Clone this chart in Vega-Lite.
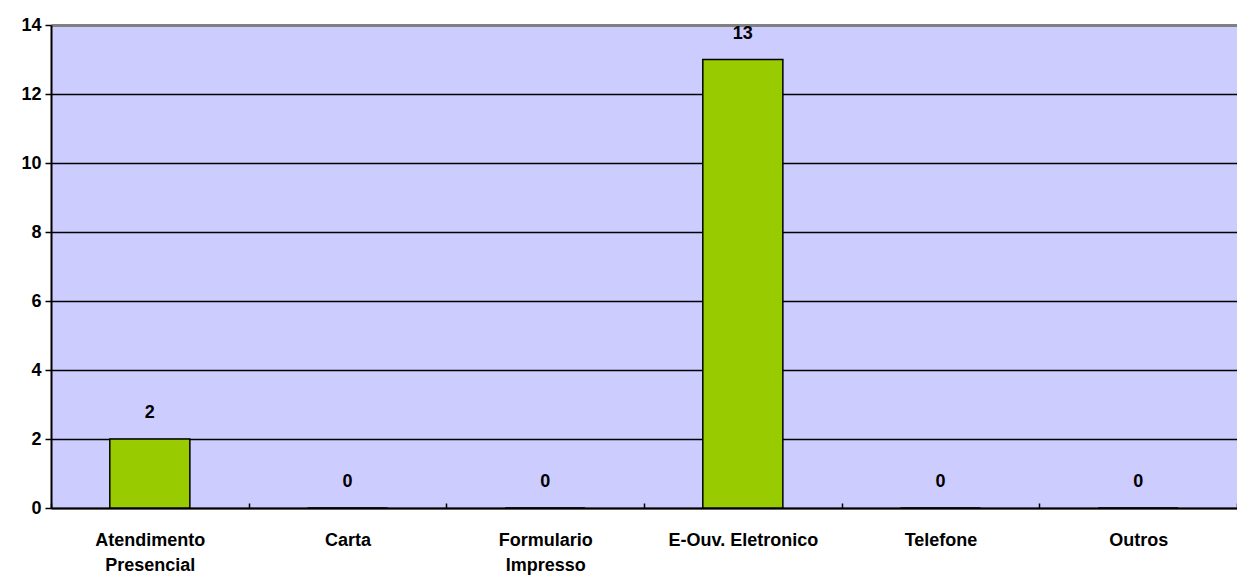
{
  "$schema": "https://vega.github.io/schema/vega-lite/v6.json",
  "width": 1186,
  "height": 483,
  "autosize": {"type": "none"},
  "padding": {"left": 51, "top": 25, "right": 0, "bottom": 72},
  "background": "white",
  "config": {
    "view": {"fill": "#CCCCFF", "stroke": null},
    "font": "Liberation Sans"
  },
  "data": {
    "values": [
      {"canal": "Atendimento Presencial", "valor": 2},
      {"canal": "Carta", "valor": 0},
      {"canal": "Formulario Impresso", "valor": 0},
      {"canal": "E-Ouv. Eletronico", "valor": 13},
      {"canal": "Telefone", "valor": 0},
      {"canal": "Outros", "valor": 0}
    ]
  },
  "encoding": {
    "x": {
      "field": "canal",
      "type": "nominal",
      "sort": null,
      "scale": {"paddingInner": 0, "paddingOuter": 0},
      "axis": {
        "title": null,
        "labelAngle": 0,
        "labelFont": "Liberation Sans",
        "labelFontSize": 18,
        "labelFontWeight": "bold",
        "labelColor": "black",
        "labelPadding": 28,
        "labelLineHeight": 25,
        "labelBaseline": "top",
        "labelExpr": "datum.label == 'Atendimento Presencial' ? ['Atendimento', 'Presencial'] : datum.label == 'Formulario Impresso' ? ['Formulario', 'Impresso'] : datum.label",
        "tickBand": "extent",
        "tickSize": -5,
        "tickColor": "black",
        "tickWidth": 1.5,
        "domainColor": "black",
        "domainWidth": 2,
        "grid": false
      }
    },
    "y": {
      "field": "valor",
      "type": "quantitative",
      "scale": {"domain": [0, 14], "nice": false},
      "axis": {
        "title": null,
        "values": [0, 2, 4, 6, 8, 10, 12, 14],
        "labelFont": "Liberation Sans",
        "labelFontSize": 18,
        "labelFontWeight": "bold",
        "labelColor": "black",
        "labelPadding": 4,
        "tickSize": 6,
        "tickColor": "black",
        "tickWidth": 1.5,
        "domainColor": "black",
        "domainWidth": 2,
        "grid": true,
        "gridColor": {"condition": {"test": "datum.value == 14", "value": "#808080"}, "value": "black"},
        "gridWidth": {"condition": {"test": "datum.value == 14", "value": 3}, "value": 1.5},
        "gridOpacity": 1
      }
    }
  },
  "layer": [
    {
      "mark": {"type": "bar", "fill": "#99CC00", "stroke": "black", "strokeWidth": 1.5, "width": {"band": 0.405}}
    },
    {
      "mark": {
        "type": "text",
        "dy": -26,
        "baseline": "middle",
        "fontSize": 18,
        "fontWeight": "bold",
        "color": "black",
        "font": "Liberation Sans"
      },
      "encoding": {"text": {"field": "valor", "type": "quantitative"}}
    }
  ]
}
